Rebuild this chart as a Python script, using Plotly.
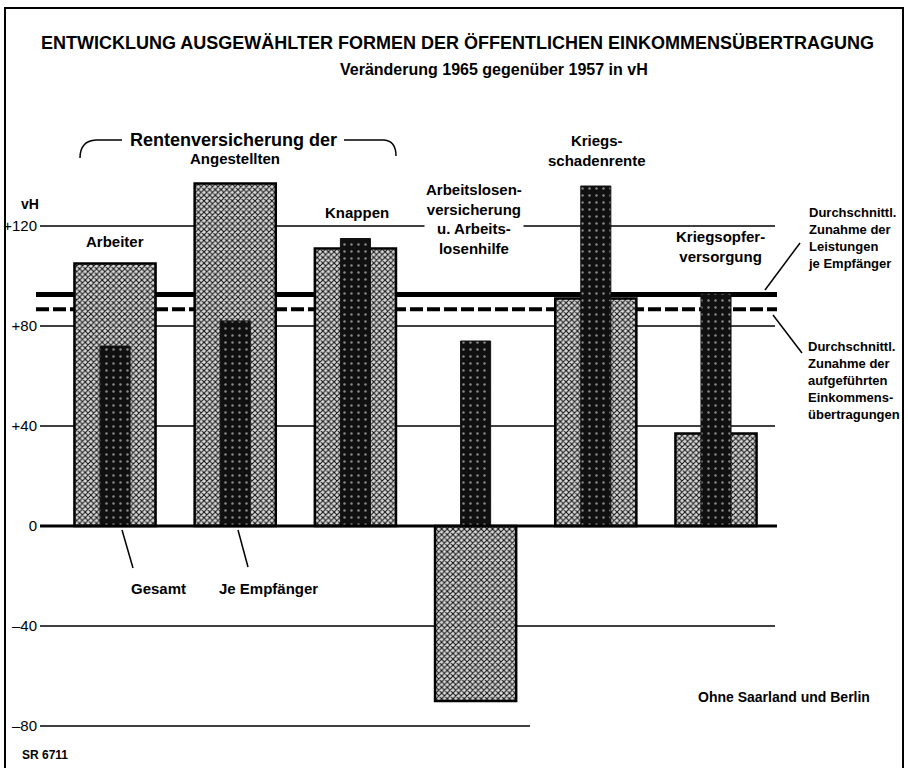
import plotly.graph_objects as go

# Veränderung 1965 gegenüber 1957 in vH
groups = ["Arbeiter", "Angestellten", "Knappen",
          "Arbeitslosen-<br>versicherung<br>u. Arbeits-<br>losenhilfe",
          "Kriegs-<br>schadenrente", "Kriegsopfer-<br>versorgung"]
gesamt = [105, 137, 111, -70, 91, 37]
je_empfaenger = [72, 82, 115, 74, 136, 93]

avg_leistungen = 92.6      # Durchschnittl. Zunahme der Leistungen je Empfänger
avg_uebertragungen = 86.7  # Durchschnittl. Zunahme der aufgeführten Einkommensübertragungen

tick_vals = [-80, -40, 0, 40, 80, 120]
tick_text = ["\u201380", "\u201340", "0", "+40", "+80", "+120"]
grid_vals = [120, 80, 40, -40]

W, H = 908, 768
L, R, T, B = 40, 133, 150, 13
PW, PH = W - L - R, H - T - B
Y_TOP = 150.4
Y_BOT = Y_TOP - PH / 2.5
X_LEFT = -0.624
X_RIGHT = X_LEFT + PW / 120.2

FONT = "Liberation Sans, Arial, sans-serif"


def px(x):
    return (x - L) / PW


def py(y):
    return 1 - (y - T) / PH


xs = list(range(len(groups)))

fig = go.Figure()
fig.add_trace(go.Bar(
    x=xs, y=gesamt, width=0.675, name="Gesamt",
    marker=dict(color="#d4d4d4", line=dict(color="black", width=2.5),
                pattern=dict(shape="x", fgcolor="#111111", bgcolor="#d8d8d8",
                             size=4, solidity=0.45, fillmode="replace")),
))
fig.add_trace(go.Bar(
    x=xs, y=je_empfaenger, width=0.25, name="Je Empfänger",
    marker=dict(color="#111", line=dict(color="#111", width=1),
                pattern=dict(shape=".", fgcolor="#8a8a8a", bgcolor="#101010",
                             size=7, solidity=0.1, fillmode="replace")),
))

shapes = []
# thin reference lines behind the bars
for v in grid_vals:
    shapes.append(dict(type="line", xref="paper", yref="y", x0=0, x1=1,
                       y0=v, y1=v, layer="below",
                       line=dict(color="black", width=1.3)))
shapes.append(dict(type="line", xref="paper", yref="y", x0=0, x1=px(530),
                   y0=-80, y1=-80, layer="below",
                   line=dict(color="black", width=1.5)))
# average lines
shapes.append(dict(type="line", xref="paper", yref="y", x0=px(36), x1=px(777),
                   y0=avg_leistungen, y1=avg_leistungen, layer="below",
                   line=dict(color="black", width=5)))
shapes.append(dict(type="line", xref="paper", yref="y", x0=px(36), x1=px(777),
                   y0=avg_uebertragungen, y1=avg_uebertragungen, layer="below",
                   line=dict(color="black", width=4, dash="13px,4px")))
# zero line
shapes.append(dict(type="line", xref="paper", yref="y", x0=px(40), x1=px(777),
                   y0=0, y1=0, layer="above",
                   line=dict(color="black", width=3)))

# leader lines
for (x0, y0, x1, y1) in [(765, 290, 800, 243), (773, 315, 802, 353),
                         (122, 530, 133, 568), (238, 530, 248, 567)]:
    shapes.append(dict(type="line", xref="paper", yref="paper",
                       x0=px(x0), y0=py(y0), x1=px(x1), y1=py(y1),
                       line=dict(color="black", width=1.5)))


# bracket around "Rentenversicherung der"
def path(points):
    s = ""
    for cmd, *pts in points:
        s += cmd + " " + " ".join(f"{px(a):.5f},{py(b):.5f}" for a, b in zip(pts[::2], pts[1::2])) + " "
    return s.strip()


shapes.append(dict(type="path", xref="paper", yref="paper",
                   path=path([("M", 80, 158), ("Q", 80, 141, 96, 140), ("L", 122, 140)]),
                   line=dict(color="black", width=1.5)))
shapes.append(dict(type="path", xref="paper", yref="paper",
                   path=path([("M", 344, 140), ("L", 384, 140), ("Q", 396, 141, 396, 156)]),
                   line=dict(color="black", width=1.5)))

# frame around the whole sheet
shapes.append(dict(type="rect", xref="paper", yref="paper",
                   x0=px(5), x1=px(903), y0=py(780), y1=py(8),
                   line=dict(color="black", width=2)))

annotations = []


def note(text, x, y, size=13, xanchor="center", yanchor="middle", align="center", bg=None):
    a = dict(text=text, x=px(x), y=py(y), xref="paper", yref="paper",
             showarrow=False, xanchor=xanchor, yanchor=yanchor, align=align,
             font=dict(family=FONT, size=size, color="black"))
    if bg:
        a["bgcolor"] = bg
    annotations.append(a)


note("<b>ENTWICKLUNG AUSGEWÄHLTER FORMEN DER ÖFFENTLICHEN EINKOMMENSÜBERTRAGUNG</b>", 457, 43, size=18)
note("<b>Veränderung 1965 gegenüber 1957 in vH</b>", 494, 69, size=16)
note("<b>Rentenversicherung der</b>", 233, 140, size=18, bg="white")
note("<b>vH</b>", 30, 204, size=14)

# category labels
label_pos = [(115, 241), (235, 158), (357, 212), (474, 219), (597, 150), (720, 246)]
for name, (lx, ly) in zip(groups, label_pos):
    note("<b>" + name + "</b>", lx, ly, size=15, bg="white" if "Arbeitslosen" in name else None)

note("<b>Gesamt</b>", 158, 588, size=15)
note("<b>Je Empfänger</b>", 268, 588, size=15)
note("<b>Durchschnittl.<br>Zunahme der<br>Leistungen<br>je Empfänger</b>", 806, 238,
     size=13, xanchor="left", align="left")
note("<b>Durchschnittl.<br>Zunahme der<br>aufgeführten<br>Einkommens-<br>übertragungen</b>", 806, 380,
     size=13, xanchor="left", align="left")
note("<b>Ohne Saarland und Berlin</b>", 784, 697, size=14)
note("<b>SR 6711</b>", 20, 755, size=12, xanchor="left")

fig.update_layout(
    width=W, height=H,
    margin=dict(l=L, r=R, t=T, b=B, autoexpand=False),
    paper_bgcolor="white", plot_bgcolor="white",
    barmode="overlay", showlegend=False,
    font=dict(family=FONT, color="black"),
    xaxis=dict(range=[X_LEFT, X_RIGHT], visible=False, showgrid=False,
               zeroline=False, automargin=False),
    yaxis=dict(range=[Y_BOT, Y_TOP], tickvals=tick_vals, ticktext=tick_text,
               showgrid=False, zeroline=False, showline=False, ticks="",
               ticklabelstandoff=2, automargin=False,
               tickprefix="<b>", ticksuffix="</b>",
               tickfont=dict(family=FONT, size=15, color="black")),
    shapes=shapes, annotations=annotations,
)

fig.write_html("out.html")
